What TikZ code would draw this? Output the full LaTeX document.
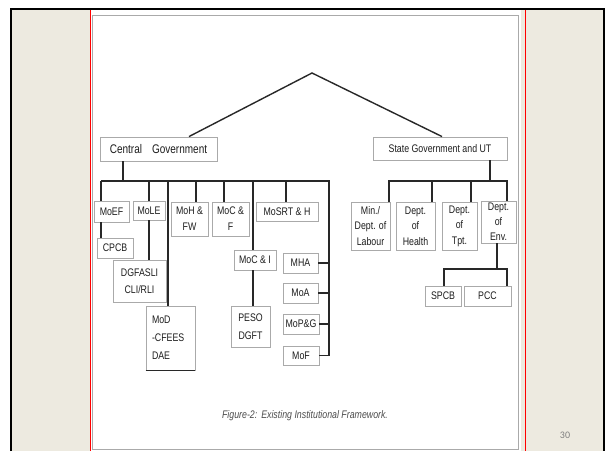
\documentclass[tikz,border=0pt]{standalone}
\usepackage{fontspec}
\setmainfont{Liberation Sans}
\newfontfamily\narrow[FakeStretch=0.8]{Liberation Sans}
\newfontfamily\pagefont{Carlito}
\usepackage{xcolor}
\usetikzlibrary{arrows.meta}

\definecolor{slidebg}{RGB}{237,234,224}
\definecolor{boxline}{RGB}{170,170,170}
\definecolor{boxtext}{RGB}{30,30,30}
\definecolor{linkcol}{RGB}{40,40,40}

\tikzset{
  box/.style={draw=boxline, line width=0.9pt, fill=white, inner sep=0pt,
    text=boxtext, align=center, font=\narrow\fontsize{11}{15.5}\selectfont},
  link/.style={draw=linkcol, line width=1.4pt}
}

\begin{document}
\begin{tikzpicture}[x=1pt, y=-1pt]
        \useasboundingbox (0,0) rectangle (607,451);

        % Draw the slide
        \fill[slidebg] (12,10) rectangle (603,451);
        \fill[white] (90,10) rectangle (521,451);
        \draw[line width=2.5pt] (11,451) -- (11,9) -- (604,9) -- (604,451);
        \draw[red, line width=0.8pt] (90,10) -- (90,451);
        \draw[red, line width=0.8pt] (525,10) -- (525,451);
        \draw[boxline, line width=1pt] (92,15) rectangle (518,449);
        \node[text=gray, font=\pagefont\fontsize{10}{10}\selectfont] (pageno) at (565,435) {30};

        % Place the two governments
        \coordinate (apex) at (312,73);
        \node[box, minimum width=117pt, minimum height=24pt, font=\narrow\fontsize{12.5}{14}\selectfont] (cg) at (158.5,149) {Central\hspace{10pt}Government};
        \node[box, minimum width=134pt, minimum height=23pt] (sg) at (440,148.5) {State Government and UT};
        \draw[link] (cg.north -| 189,0) -- (apex) -- (sg.north -| 442,0);

        % Central government ministries
        \node[box, minimum width=35pt, minimum height=21pt] (moef) at (111.5,211.5) {MoEF};
        \node[box, minimum width=36pt, minimum height=20pt] (cpcb) at (115,248) {CPCB};
        \node[box, minimum width=32pt, minimum height=19pt] (mole) at (149,210.5) {MoLE};
        \node[box, minimum width=53pt, minimum height=42pt, font=\narrow\fontsize{11}{17}\selectfont] (dgfasli) at (139.5,281) {DGFASLI\\CLI/RLI};
        \node[box, minimum width=49pt, minimum height=64pt, align=left, text width=37pt, font=\narrow\fontsize{11}{18}\selectfont] (mod) at (170.5,338) {MoD\\-CFEES\\DAE};
        \node[box, minimum width=37pt, minimum height=34pt, font=\narrow\fontsize{11}{16}\selectfont] (mohfw) at (189.5,219) {MoH \&\\FW};
        \node[box, minimum width=37pt, minimum height=34pt, font=\narrow\fontsize{11}{16}\selectfont] (mocf) at (230.5,219) {MoC \&\\F};
        \node[box, minimum width=42pt, minimum height=20pt] (moci) at (255,260) {MoC \& I};
        \node[box, minimum width=39pt, minimum height=41pt, font=\narrow\fontsize{11}{18}\selectfont] (peso) at (250.5,326.5) {PESO\\DGFT};
        \node[box, minimum width=62pt, minimum height=19pt] (mosrt) at (287,211.5) {MoSRT \& H};
        \node[box, minimum width=35pt, minimum height=20pt] (mha) at (300.5,263) {MHA};
        \node[box, minimum width=35pt, minimum height=20pt] (moa) at (300.5,293) {MoA};
        \node[box, minimum width=36pt, minimum height=20pt] (mopg) at (301,324) {MoP\&G};
        \node[box, minimum width=36pt, minimum height=19pt] (mof) at (301,355.5) {MoF};
        \draw[linkcol, line width=1pt] (mod.south west) -- (mod.south east);

        % Central bus and drops
        \coordinate (busL) at (101,181);
        \coordinate (busR) at (329,181);
        \coordinate (dropD) at (168,181);
        \coordinate (dropH) at (196,181);
        \coordinate (dropF) at (224,181);
        \coordinate (dropI) at (253,181);
        \coordinate (dropS) at (286,181);
        \draw[link] (cg.south -| 123,0) -- (123,181);
        \draw[link] (busL) -- (busR) -- (mof.east -| busR) -- (mof.east);
        \draw[link] (busL) -- (moef.north -| busL);
        \draw[link] (moef.south -| busL) -- (cpcb.north -| busL);
        \draw[link] (mole.north |- busL) -- (mole.north);
        \draw[link] (mole.south) -- (mole.south |- dgfasli.north);
        \draw[link] (dropD) -- (dropD |- mod.north);
        \draw[link] (dropH) -- (dropH |- mohfw.north);
        \draw[link] (dropF) -- (dropF |- mocf.north);
        \draw[link] (dropI) -- (dropI |- moci.north);
        \draw[link] (moci.south -| dropI) -- (dropI |- peso.north);
        \draw[link] (dropS) -- (dropS |- mosrt.north);
        \draw[link] (mha.east) -- (mha.east -| busR);
        \draw[link] (moa.east) -- (moa.east -| busR);
        \draw[link] (mopg.east) -- (mopg.east -| busR);

        % State government departments
        \node[box, minimum width=39pt, minimum height=48pt] (labour) at (370.5,226) {Min./\\Dept. of\\Labour};
        \node[box, minimum width=39pt, minimum height=48pt] (health) at (415.5,226) {Dept.\\of\\Health};
        \node[box, minimum width=35pt, minimum height=48pt] (tpt) at (459.5,226) {Dept.\\of\\Tpt.};
        \node[box, minimum width=35pt, minimum height=42pt, font=\narrow\fontsize{11}{15}\selectfont] (env) at (498.5,222) {Dept.\\of\\Env.};
        \node[box, minimum width=36pt, minimum height=20pt] (spcb) at (443,296) {SPCB};
        \node[box, minimum width=47pt, minimum height=20pt] (pcc) at (487.5,296) {PCC};

        % State bus and drops
        \coordinate (sbusL) at (389,181);
        \coordinate (sbusR) at (507,181);
        \coordinate (sdropH) at (432,181);
        \coordinate (sdropT) at (471,181);
        \coordinate (envL) at (444,269);
        \coordinate (envR) at (507,269);
        \draw[link] (sg.south -| 490,0) -- (490,181);
        \draw[link] (sbusL |- labour.north) -- (sbusL) -- (sbusR) -- (sbusR |- env.north);
        \draw[link] (sdropH) -- (sdropH |- health.north);
        \draw[link] (sdropT) -- (sdropT |- tpt.north);
        \draw[link] (env.south -| 497,0) -- (497,269);
        \draw[link] (envL |- spcb.north) -- (envL) -- (envR) -- (envR |- pcc.north);

        % Caption
        \node[text=gray!60!black, font=\narrow\itshape\fontsize{11}{12}\selectfont] (caption) at (305,416) {Figure-2:\hspace{4pt}Existing Institutional Framework.};
    \end{tikzpicture}
\end{document}
